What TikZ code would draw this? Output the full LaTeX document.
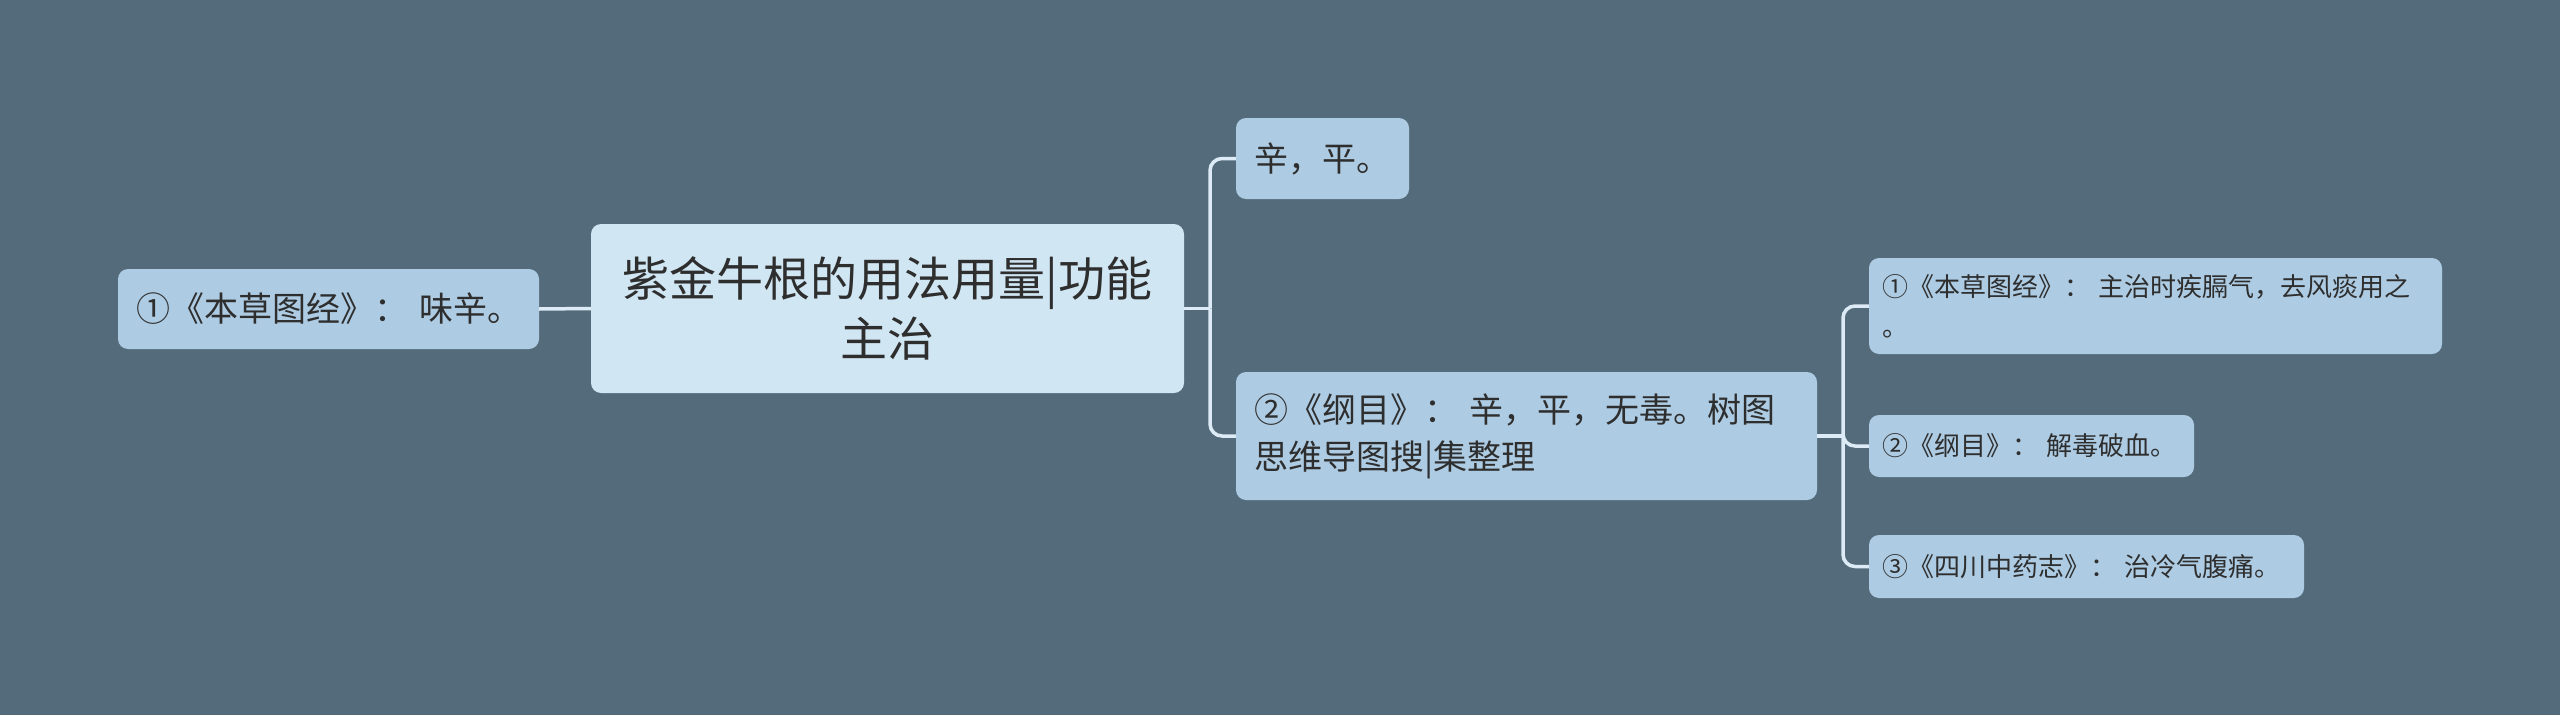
\documentclass[tikz,border=0pt]{standalone}
\usepackage{fontspec}
\setmainfont{Noto Sans CJK SC}
\definecolor{bgcol}{HTML}{546B7B}
\definecolor{nodecol}{HTML}{ADCBE2}
\definecolor{rootcol}{HTML}{D0E6F3}
\definecolor{linecol}{HTML}{DCEBF5}
\definecolor{txtcol}{HTML}{2E2E2E}

\begin{document}
\begin{tikzpicture}[x=1pt,y=-1pt,
    box/.style={fill=nodecol,rounded corners=10pt,text=txtcol,align=left,inner ysep=0pt},
    rootbox/.style={box,fill=rootcol,align=center,inner xsep=20pt,
      font=\fontsize{47}{60}\selectfont},
    lvlone/.style={box,inner xsep=18pt,font=\fontsize{34}{47}\selectfont},
    lvltwo/.style={box,inner xsep=13pt,font=\fontsize{26}{40}\selectfont},
    conn/.style={draw=linecol,line width=3.5pt}]
    \fill[bgcol] (0,0) rectangle (2560,715);
    \useasboundingbox (0,0) rectangle (2560,715);

    % centre and left side
    \node[rootbox,text width=553pt,minimum height=169pt] (root) at (887.5,308.5)
      {紫金牛根的用法用量|功能\\主治};
    \node[lvlone,text width=385pt,minimum height=80pt] (left) at (328.5,309)
      {①《本草图经》：~味辛。};

    % right side, first level
    \node[lvlone,text width=137pt,minimum height=81pt] (xin) at (1322.5,158.5)
      {辛，平。};
    \node[lvlone,text width=545pt,minimum height=128pt] (gangmu) at (1526.5,436)
      {②《纲目》：~辛，平，无毒。树图\\思维导图搜|集整理};

    % right side, second level
    \node[lvltwo,text width=547pt,minimum height=96pt] (zhuzhi) at (2155.5,306)
      {①《本草图经》：~主治时疾膈气，去风痰用之\\。};
    \node[lvltwo,text width=299pt,minimum height=62pt] (jiedu) at (2031.5,446)
      {②《纲目》：~解毒破血。};
    \node[lvltwo,text width=409pt,minimum height=63pt] (sichuan) at (2086.5,566.5)
      {③《四川中药志》：~治冷气腹痛。};

    % connectors
    \draw[conn] (left.east) -- (root.west);
    \coordinate (JOne) at (1210,308.5);
    \coordinate (JTwo) at (1843,436);
    \draw[conn] (root.east) -- (JOne);
    \foreach \n in {xin,gangmu}{
      \draw[conn,rounded corners=12pt] (JOne) |- (\n.west);
    }
    \draw[conn] (gangmu.east) -- (JTwo);
    \foreach \n in {zhuzhi,jiedu,sichuan}{
      \draw[conn,rounded corners=12pt] (JTwo) |- (\n.west);
    }
\end{tikzpicture}
\end{document}
